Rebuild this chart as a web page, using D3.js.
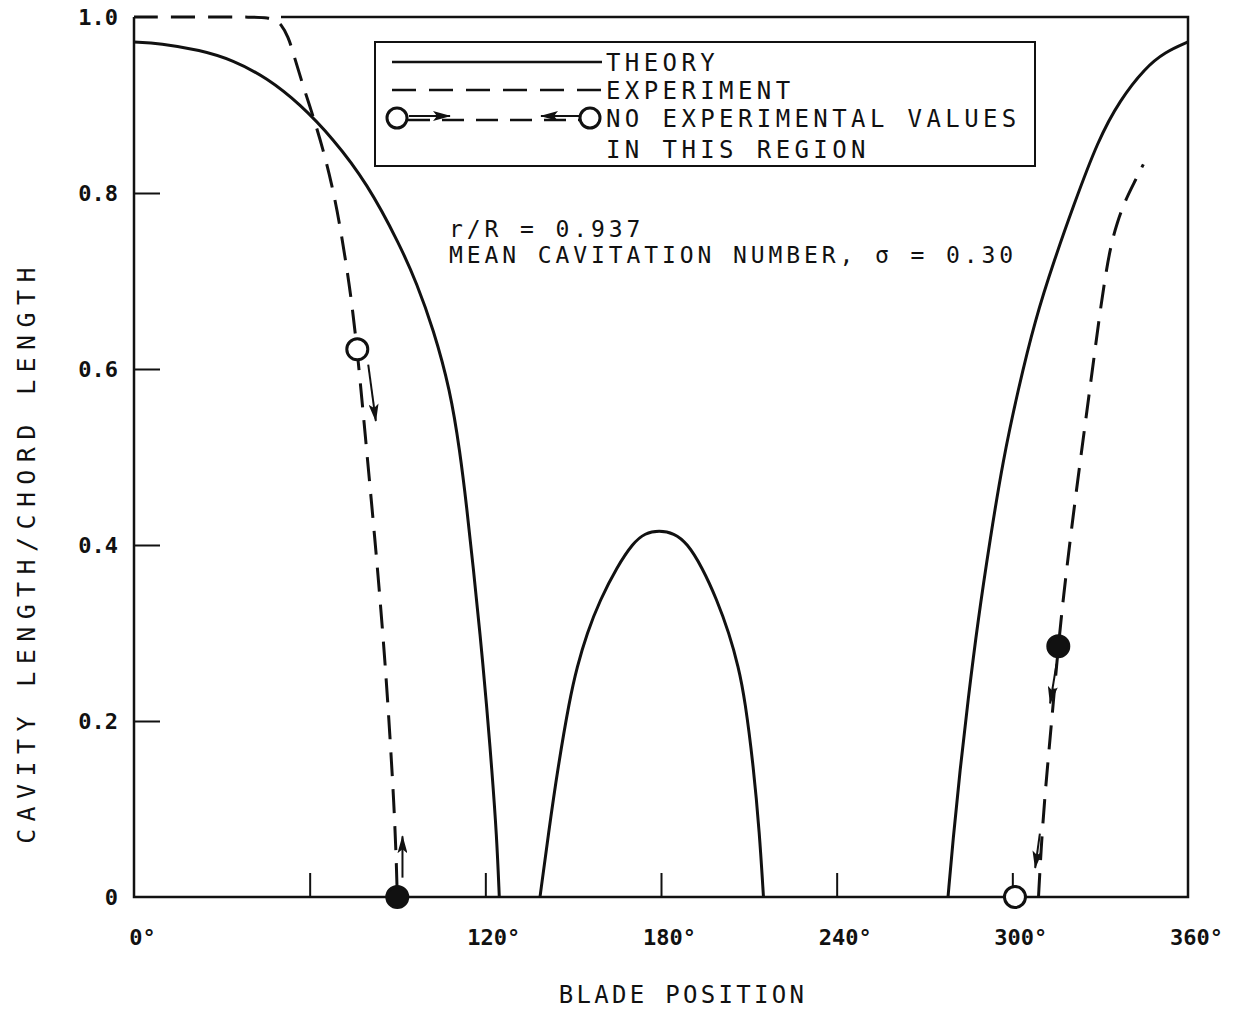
<!DOCTYPE html>
<html>
<head>
<meta charset="utf-8">
<script src="https://cdn.jsdelivr.net/npm/d3@7"></script>
<style>
  body { margin: 0; background: #fff; }
  text { font-family: "DejaVu Sans Mono", "Liberation Mono", monospace; fill: #111; }
</style>
</head>
<body>
<svg id="chart" width="1240" height="1010"></svg>
<script>
// Cavity length / chord length against blade position (degrees)

// Theory: three separate lobes
const theoryLeftDeg = [0, 8.88, 22.54, 33.81, 45.43, 56.70, 67.97, 79.58, 90.85, 96.56, 102.23, 108.0, 111.35, 113.64, 115.89, 118.18, 120.47, 122.18, 123.89, 124.77];
const theoryLeftVal = [0.9716, 0.9702, 0.9625, 0.9511, 0.9307, 0.9011, 0.8619, 0.8114, 0.7409, 0.6974, 0.6455, 0.5761, 0.5057, 0.4432, 0.3739, 0.3000, 0.2170, 0.1466, 0.0693, 0];

const theoryMidDeg = [138.67, 141.58, 144.82, 148.75, 151.31, 154.73, 159.17, 164.97, 170.44, 174.54, 179.32, 184.44, 188.88, 194.0, 199.13, 203.23, 206.47, 208.69, 211.6, 213.64, 215.0];
const theoryMidVal = [0, 0.0727, 0.1477, 0.2239, 0.2614, 0.3000, 0.3375, 0.3750, 0.4023, 0.4136, 0.4165, 0.4136, 0.4023, 0.3750, 0.3375, 0.3000, 0.2614, 0.2239, 0.1477, 0.0727, 0];

const theoryRightDeg = [278.03, 279.73, 282.13, 284.86, 288.28, 292.37, 296.81, 301.94, 307.74, 314.57, 320.72, 329.26, 336.77, 345.31, 352.14, 360];
const theoryRightVal = [0, 0.0648, 0.1443, 0.2239, 0.3148, 0.4057, 0.4966, 0.5761, 0.6557, 0.7261, 0.7841, 0.8602, 0.9057, 0.9420, 0.9602, 0.9716];

// Experiment: two measured branches
const expLeftDeg = [0, 22.54, 41.33, 45.77, 48.16, 50.21, 52.70, 54.41, 57.83, 61.24, 64.55, 67.63, 70.36, 73.78, 76.27, 79.82, 82.90, 85.73, 87.44, 88.81, 89.59, 89.93];
const expLeftVal = [1, 1, 1, 0.9991, 0.9972, 0.9920, 0.9776, 0.9588, 0.9208, 0.8867, 0.8500, 0.8091, 0.7636, 0.6920, 0.6224, 0.4947, 0.3850, 0.2693, 0.1824, 0.1045, 0.0420, 0];

const expRightDeg = [308.94, 309.80, 310.99, 312.53, 314.07, 315.60, 317.31, 320.56, 324.15, 327.56, 329.94, 331.99, 333.70, 335.75, 338.48, 341.56, 344.75];
const expRightVal = [0, 0.0534, 0.1102, 0.1670, 0.2239, 0.2807, 0.3375, 0.4284, 0.5193, 0.6045, 0.6648, 0.7102, 0.7409, 0.7659, 0.7909, 0.8114, 0.8326];

// End points of the region with no experimental values
const circleDeg = [76.27, 89.93, 300.9, 315.7];
const circleVal = [0.6224, 0, 0, 0.285];
const circleFilled = [false, true, false, true];

// Direction arrows beside the end points
const arrowFromDeg = [80.0, 91.7, 315.1, 309.4];
const arrowFromVal = [0.605, 0.022, 0.265, 0.072];
const arrowToDeg = [82.6, 91.7, 312.9, 307.8];
const arrowToVal = [0.541, 0.069, 0.220, 0.033];

// Axis ticks
const xTickValues = [60, 120, 180, 240, 300];
const xLabelValues = [0, 120, 180, 240, 300, 360];
const xLabelText = ["0°", "120°", "180°", "240°", "300°", "360°"];
const yTickValues = [0.2, 0.4, 0.6, 0.8];
const yLabelValues = [0, 0.2, 0.4, 0.6, 0.8, 1.0];
const yLabelText = ["0", "0.2", "0.4", "0.6", "0.8", "1.0"];

const legendItems = ["THEORY", "EXPERIMENT", "NO EXPERIMENTAL VALUES", "IN THIS REGION"];
const noteLines = ["r/R = 0.937", "MEAN CAVITATION NUMBER, σ = 0.30"];

const svg = d3.select("#chart");
const ink = "#111";

const x = d3.scaleLinear().domain([0, 360]).range([134, 1188]);
const y = d3.scaleLinear().domain([0, 1]).range([897, 17]);

// Arrowhead marker
const defs = svg.append("defs");
defs.append("marker")
  .attr("id", "head")
  .attr("markerUnits", "userSpaceOnUse")
  .attr("viewBox", "0 0 18 10")
  .attr("markerWidth", 18).attr("markerHeight", 10)
  .attr("refX", 17).attr("refY", 5)
  .attr("orient", "auto")
  .append("path").attr("d", "M0,0 L18,5 L0,10 L4,5 Z").attr("fill", ink);

// Frame (top edge begins where the experiment curve has clearly left 1.0)
const firstDrop = expLeftDeg[expLeftVal.findIndex(v => v < 0.995)];
const frame = svg.append("g").attr("stroke", ink).attr("stroke-width", 2.5).attr("fill", "none");
frame.append("path").attr("d", `M${x(firstDrop)},${y(1)} H${x(360)} V${y(0)} H${x(0)} V${y(1)}`);

// Inward tick marks
svg.append("g").attr("transform", `translate(0,${y(0)})`)
  .call(d3.axisTop(x).tickValues(xTickValues).tickSize(24).tickFormat(""))
  .call(g => g.select(".domain").remove())
  .call(g => g.selectAll("line").attr("stroke", ink).attr("stroke-width", 2));
svg.append("g").attr("transform", `translate(${x(0)},0)`)
  .call(d3.axisRight(y).tickValues(yTickValues).tickSize(26).tickFormat(""))
  .call(g => g.select(".domain").remove())
  .call(g => g.selectAll("line").attr("stroke", ink).attr("stroke-width", 2));

// Tick labels
svg.append("g").attr("transform", `translate(0,${y(0)})`)
  .call(d3.axisBottom(x).tickValues(xLabelValues).tickSize(0).tickPadding(0)
        .tickFormat((d, i) => xLabelText[i]))
  .call(g => g.select(".domain").remove())
  .call(g => g.selectAll("text")
      .attr("dx", 8).attr("y", 48).attr("dy", 0)
      .attr("font-size", 22).attr("font-weight", "bold")
      .attr("font-family", "DejaVu Sans Mono").attr("fill", ink));
svg.append("g").attr("transform", `translate(${x(0)},0)`)
  .call(d3.axisLeft(y).tickValues(yLabelValues).tickSize(0).tickPadding(16)
        .tickFormat((d, i) => yLabelText[i]))
  .call(g => g.select(".domain").remove())
  .call(g => g.selectAll("text")
      .attr("font-size", 22).attr("font-weight", "bold")
      .attr("font-family", "DejaVu Sans Mono").attr("fill", ink));

// Axis titles
svg.append("text")
  .attr("x", 683).attr("y", 1003).attr("text-anchor", "middle")
  .attr("font-size", 24).attr("letter-spacing", 3.3)
  .text("BLADE POSITION");
svg.append("text")
  .attr("transform", `translate(35,${552}) rotate(-90)`).attr("text-anchor", "middle")
  .attr("font-size", 25).attr("letter-spacing", 7.4)
  .text("CAVITY LENGTH/CHORD LENGTH");

// Curves (B-spline through the read-off points, for a hand-drawn smoothness)
const line = d3.line().x(d => x(d[0])).y(d => y(d[1])).curve(d3.curveBasis);
const pairs = (a, b) => a.map((v, i) => [v, b[i]]);

const theory = [pairs(theoryLeftDeg, theoryLeftVal), pairs(theoryMidDeg, theoryMidVal), pairs(theoryRightDeg, theoryRightVal)];
svg.append("g").selectAll("path").data(theory).join("path")
  .attr("d", line).attr("fill", "none").attr("stroke", ink).attr("stroke-width", 3);

const experiment = [pairs(expLeftDeg, expLeftVal), pairs(expRightDeg, expRightVal)];
svg.append("g").selectAll("path").data(experiment).join("path")
  .attr("d", line).attr("fill", "none").attr("stroke", ink).attr("stroke-width", 3)
  .attr("stroke-dasharray", "24 13");

// Arrows
svg.append("g").selectAll("line").data(arrowFromDeg).join("line")
  .attr("x1", (d, i) => x(arrowFromDeg[i])).attr("y1", (d, i) => y(arrowFromVal[i]))
  .attr("x2", (d, i) => x(arrowToDeg[i])).attr("y2", (d, i) => y(arrowToVal[i]))
  .attr("stroke", ink).attr("stroke-width", 2).attr("marker-end", "url(#head)");

// End point circles
svg.append("g").selectAll("circle").data(circleDeg).join("circle")
  .attr("cx", (d, i) => x(circleDeg[i])).attr("cy", (d, i) => y(circleVal[i]))
  .attr("r", 10.5)
  .attr("fill", (d, i) => circleFilled[i] ? ink : "#fff")
  .attr("stroke", ink).attr("stroke-width", 3);

// Legend
const lg = svg.append("g");
lg.append("rect").attr("x", 375).attr("y", 42).attr("width", 660).attr("height", 124)
  .attr("fill", "#fff").attr("stroke", ink).attr("stroke-width", 2);
const rowY = [62, 90, 118, 149];
lg.append("line").attr("x1", 392).attr("x2", 602).attr("y1", rowY[0]).attr("y2", rowY[0])
  .attr("stroke", ink).attr("stroke-width", 2.5);
lg.append("line").attr("x1", 392).attr("x2", 602).attr("y1", rowY[1]).attr("y2", rowY[1])
  .attr("stroke", ink).attr("stroke-width", 2.5).attr("stroke-dasharray", "24 13");
lg.append("line").attr("x1", 408).attr("x2", 580).attr("y1", rowY[2] + 2).attr("y2", rowY[2] + 2)
  .attr("stroke", ink).attr("stroke-width", 2.5).attr("stroke-dasharray", "22 12");
lg.append("line").attr("x1", 409).attr("x2", 450).attr("y1", rowY[2] - 2).attr("y2", rowY[2] - 2)
  .attr("stroke", ink).attr("stroke-width", 2).attr("marker-end", "url(#head)");
lg.append("line").attr("x1", 580).attr("x2", 541).attr("y1", rowY[2] - 2).attr("y2", rowY[2] - 2)
  .attr("stroke", ink).attr("stroke-width", 2).attr("marker-end", "url(#head)");
lg.selectAll("circle").data([397, 590]).join("circle")
  .attr("cx", d => d).attr("cy", rowY[2]).attr("r", 10)
  .attr("fill", "#fff").attr("stroke", ink).attr("stroke-width", 3);
lg.selectAll("text").data(legendItems).join("text")
  .attr("x", 606).attr("y", (d, i) => rowY[i]).attr("dy", "0.36em")
  .attr("font-size", 24).attr("letter-spacing", 4.4)
  .text(d => d);

// Operating condition note
svg.append("g").selectAll("text").data(noteLines).join("text")
  .attr("x", 449).attr("y", (d, i) => 229 + i * 26).attr("dy", "0.36em")
  .attr("font-size", 23).attr("letter-spacing", 3.9)
  .text(d => d);
</script>
</body>
</html>
